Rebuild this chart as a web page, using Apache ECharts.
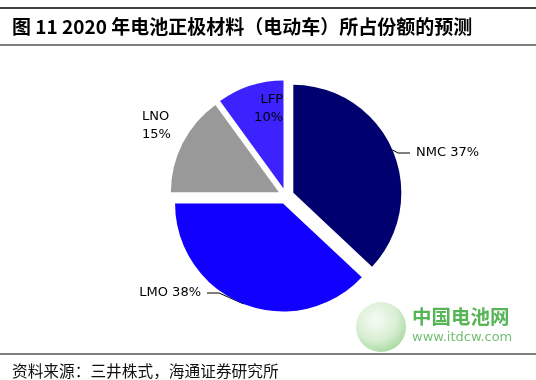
<!DOCTYPE html>
<html><head><meta charset="utf-8">
<script src="https://cdn.jsdelivr.net/npm/echarts@6/dist/echarts.min.js"></script>
<style>html,body{margin:0;padding:0;background:#fff;}#c{width:536px;height:380px;}</style>
</head><body><div id="c"></div>
<script>
const titleText = '图 11 2020 年电池正极材料（电动车）所占份额的预测';
const sourceText = '资料来源：三井株式，海通证券研究所';
const categories = ['NMC', 'LMO', 'LNO', 'LFP'];
const shares = [37, 38, 15, 10];
const colors = ['#00006e', '#1200ff', '#999999', '#3b22ff'];

const labelSpots = [
  {x: 410, y: 153, align: 'left', pad: [0, 0, 0, 6]},
  {x: 207, y: 293, align: 'right', pad: [0, 6, 0, 0]},
  {x: 142, y: 126, align: 'left', pad: 0},
  {x: 283, y: 109, align: 'right', pad: 0}
];

const baseCenter = [286, 196];
const explode = 8;
const total = shares.reduce((a, b) => a + b, 0);

let cum = 0;
const series = categories.map((name, i) => {
  const mid = (cum + shares[i] / 2) / total * Math.PI * 2;
  cum += shares[i];
  const twoLine = (name === 'LNO' || name === 'LFP');
  const data = categories.map((n, j) => {
    if (j !== i) {
      return {name: n, value: shares[j], itemStyle: {color: 'rgba(0,0,0,0)'}, label: {show: false}, labelLine: {show: false}};
    }
    return {
      name: n, value: shares[j],
      itemStyle: {color: colors[j]},
      label: {show: true, formatter: twoLine ? '{b}\n{c}%' : '{b} {c}%', position: name === 'LFP' ? 'inside' : 'outside', padding: labelSpots[j].pad},
      labelLine: {show: !twoLine}
    };
  });
  return {
    type: 'pie',
    center: [baseCenter[0] + explode * Math.sin(mid), baseCenter[1] - explode * Math.cos(mid)],
    radius: 108,
    startAngle: 90,
    clockwise: true,
    silent: true,
    avoidLabelOverlap: false,
    emphasis: {disabled: true},
    label: {color: '#000', fontSize: 13, lineHeight: 18, fontFamily: '"DejaVu Sans", sans-serif'},
    labelLine: {lineStyle: {color: '#000', width: 1}, length: 10, length2: 12},
    labelLayout: function (p) {
      const s = labelSpots[p.dataIndex];
      return {x: s.x, y: s.y, align: s.align, verticalAlign: 'middle'};
    },
    itemStyle: {borderWidth: 0},
    data: data
  };
});

const chart = echarts.init(document.getElementById('c'), null, {renderer: 'canvas'});
chart.setOption({
  animation: false,
  backgroundColor: '#fff',
  graphic: [
    {type: 'line', shape: {x1: 0, y1: 8, x2: 536, y2: 8}, style: {stroke: '#000', lineWidth: 1.5}},
    {type: 'text', left: 12, top: 17, style: {text: titleText, font: 'bold 19px "Noto Sans CJK SC", "Liberation Sans", sans-serif', fill: '#000'}},
    {type: 'line', shape: {x1: 0, y1: 45, x2: 536, y2: 45}, style: {stroke: '#000', lineWidth: 1.2}},
    {type: 'line', shape: {x1: 0, y1: 354, x2: 536, y2: 354}, style: {stroke: '#000', lineWidth: 1.2}},
    {type: 'text', left: 12, top: 363, style: {text: sourceText, font: '15.7px "Noto Sans CJK SC", sans-serif', fill: '#111'}},
    {type: 'circle', shape: {cx: 381, cy: 327, r: 25}, style: {fill: new echarts.graphic.RadialGradient(0.4, 0.35, 0.7, [{offset: 0, color: '#f4fbf2'}, {offset: 0.6, color: '#cfeac9'}, {offset: 1, color: '#8fcf86'}]), opacity: 0.8}, z: -1},
    {type: 'text', left: 412, top: 307, style: {text: '中国电池网', font: 'bold 19.5px "Noto Sans CJK SC", sans-serif', fill: '#3aa83a', opacity: 0.85}, z: -1},
    {type: 'text', left: 412, top: 331, style: {text: 'www.itdcw.com', font: '13px "DejaVu Sans", sans-serif', fill: '#5bb35b', opacity: 0.85}, z: -1}
  ],
  series: series
});
</script></body></html>
